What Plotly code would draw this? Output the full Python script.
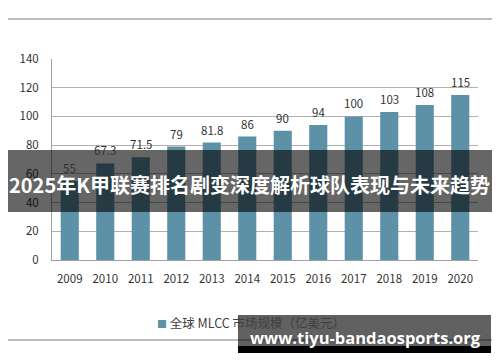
import plotly.graph_objects as go

years = ["2009", "2010", "2011", "2012", "2013", "2014", "2015", "2016", "2017", "2018", "2019", "2020"]
values = [55, 67.3, 71.5, 79, 81.8, 86, 90, 94, 100, 103, 108, 115]
series_name = "全球 MLCC 市场规模（亿美元）"
title_text = "2025年K甲联赛排名剧变深度解析球队表现与未来趋势"
watermark_text = "www.tiyu-bandaosports.org"

OFF = 8  # page body margin
W, H = 500 - OFF, 362 - OFF
# plot area in screen pixels
SX0, SX1, SY0, SY1 = 52, 478, 59, 260
L, R = SX0 - OFF, W - (SX1 - OFF)
T, B = SY0 - OFF, H - (SY1 - OFF)
PW, PH = SX1 - SX0, SY1 - SY0


def px(x):
    return (x - SX0) / PW


def py(y):
    return (SY1 - y) / PH


bar_color = "#5D91A7"
font_main = "Noto Sans CJK SC, Open Sans, sans-serif"

fig = go.Figure()
fig.add_trace(go.Bar(
    x=years, y=values, name=series_name,
    marker=dict(color=bar_color, line=dict(width=0)),
    showlegend=False,
))

annotations = []
for i, v in enumerate(values):
    annotations.append(dict(
        x=i, y=v, xref="x", yref="y", text=str(v), showarrow=False,
        yanchor="bottom", yshift=3,
        font=dict(size=11.5, color="#333333", family=font_main),
    ))

# legend (manual)
annotations.append(dict(
    x=px(155), y=py(322), xref="paper", yref="paper", xanchor="left", yanchor="middle",
    showarrow=False,
    text=f'<span style="color:{bar_color};font-size:10px">■</span> {series_name}',
    font=dict(size=12.5, color="#404040", family=font_main),
))

# title overlay text
annotations.append(dict(
    x=px(249), y=py(184), xref="paper", yref="paper", xanchor="center", yanchor="middle",
    showarrow=False, text=f"<b>{title_text}</b>",
    font=dict(size=20, color="white", family=font_main),
))

# watermark text
annotations.append(dict(
    x=px(365), y=py(337), xref="paper", yref="paper", xanchor="center", yanchor="middle",
    showarrow=False, text=f"<b>{watermark_text}</b>",
    font=dict(size=16.5, color="white", family="Open Sans, sans-serif"),
))

shapes = [
    # outer frame
    dict(type="rect", xref="paper", yref="paper", x0=px(5), x1=px(494), y0=py(340), y1=py(19),
         line=dict(color="#a6a6a6", width=1.5), fillcolor="rgba(0,0,0,0)", layer="below"),
    # title band
    dict(type="rect", xref="paper", yref="paper", x0=px(8), x1=px(493), y0=py(212), y1=py(150),
         line=dict(width=0), fillcolor="rgba(0,0,0,0.6)", layer="above"),
    # watermark band
    dict(type="rect", xref="paper", yref="paper", x0=px(238), x1=px(491), y0=py(346), y1=py(315),
         line=dict(width=0), fillcolor="rgba(0,0,0,0.62)", layer="above"),
    dict(type="rect", xref="paper", yref="paper", x0=px(238), x1=px(491), y0=py(353), y1=py(346),
         line=dict(width=0), fillcolor="black", layer="above"),
]

fig.update_layout(
    width=W, height=H,
    margin=dict(l=L, r=R, t=T, b=B, autoexpand=False),
    paper_bgcolor="white", plot_bgcolor="white",
    bargap=0.49,
    annotations=annotations,
    shapes=shapes,
    font=dict(family=font_main, size=11, color="#404040"),
)
fig.update_xaxes(
    type="category", range=[-0.5, len(years) - 0.5], autorange=False,
    showgrid=False, showline=True, linecolor="#a0a0a0", linewidth=1,
    ticks="", ticklabelstandoff=8, tickfont=dict(size=11.5, color="#333333", family=font_main),
)
fig.update_yaxes(
    range=[0, 140], autorange=False, dtick=20, showgrid=True, gridcolor="#b0b0b0", gridwidth=1,
    showline=True, linecolor="#a0a0a0", linewidth=1, zeroline=False,
    ticks="", ticklabelstandoff=10, tickfont=dict(size=11.5, color="#333333", family=font_main),
)

fig.write_html("out.html")
